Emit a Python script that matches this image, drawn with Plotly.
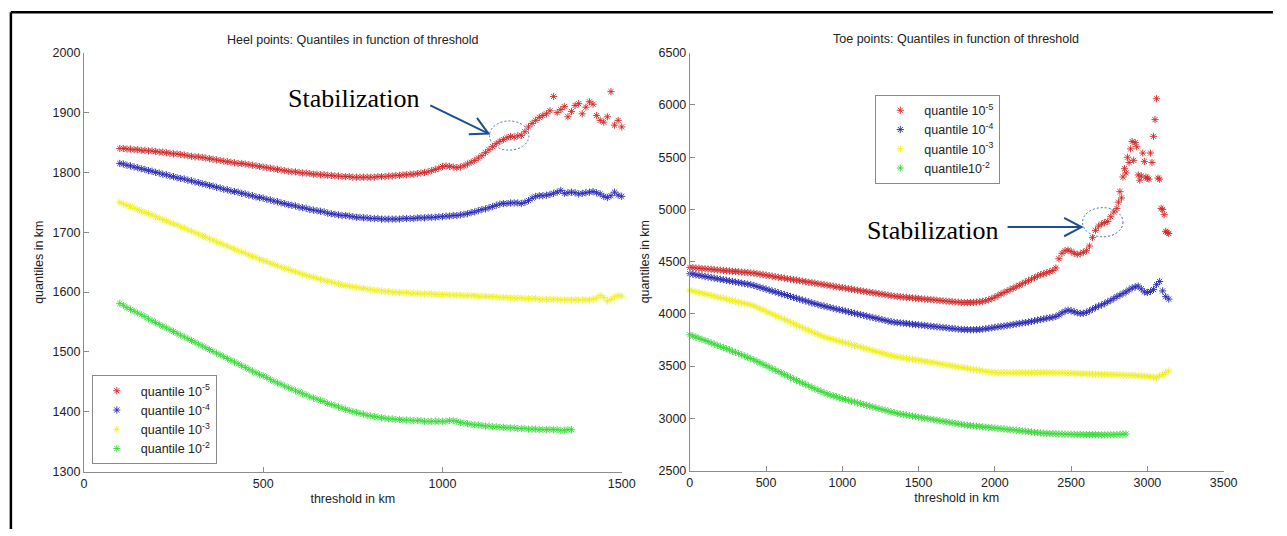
import math
import plotly.graph_objects as go

W, H = 1287, 536

# ---------------- Heel points (threshold 100..1500 km, step 10) ----------------
HEEL_X = list(range(100, 1501, 10))
HEEL_X_GREEN = list(range(100, 1361, 10))

heel_q5 = [
    1840, 1840, 1839, 1839, 1838, 1838, 1837, 1837, 1836, 1836, 1835,
    1834, 1834, 1833, 1832, 1831, 1831, 1830, 1829, 1828, 1827,
    1826, 1826, 1825, 1824, 1823, 1822, 1821, 1820, 1819, 1818,
    1817, 1816, 1815, 1815, 1814, 1813, 1812, 1811, 1810, 1809,
    1808, 1807, 1806, 1805, 1804, 1803, 1802, 1801, 1801, 1800,
    1799, 1799, 1798, 1797, 1797, 1796, 1796, 1795, 1795, 1794,
    1794, 1793, 1793, 1793, 1792, 1792, 1792, 1792, 1792, 1792,
    1792, 1793, 1793, 1793, 1794, 1794, 1795, 1795, 1796, 1796,
    1797, 1797, 1798, 1799, 1800, 1801, 1803, 1805, 1807, 1810,
    1811, 1810, 1809, 1808, 1809, 1811, 1814, 1817, 1820, 1824,
    1828, 1833, 1838, 1843, 1848, 1852, 1855, 1858, 1860, 1859,
    1861, 1862, 1868, 1876, 1882, 1887, 1892, 1895, 1898, 1903,
    1927, 1900, 1905, 1910, 1893, 1902, 1912, 1915, 1898, 1909,
    1918, 1914, 1895, 1887, 1884, 1893, 1935, 1879, 1887, 1876,
]
heel_q4 = [
    1815, 1814, 1812, 1811, 1809, 1808, 1806, 1805, 1803, 1802, 1800,
    1799, 1797, 1796, 1794, 1793, 1791, 1790, 1789, 1787, 1786,
    1784, 1783, 1781, 1780, 1778, 1777, 1775, 1774, 1772, 1771,
    1769, 1768, 1767, 1765, 1764, 1762, 1761, 1759, 1758, 1757,
    1755, 1754, 1752, 1751, 1749, 1748, 1746, 1745, 1744, 1742,
    1741, 1740, 1738, 1737, 1736, 1735, 1734, 1732, 1731, 1730,
    1729, 1728, 1728, 1727, 1726, 1725, 1725, 1724, 1724, 1723,
    1723, 1723, 1722, 1722, 1722, 1722, 1722, 1722, 1723, 1723,
    1723, 1723, 1724, 1724, 1724, 1725, 1725, 1725, 1726, 1726,
    1727, 1727, 1728, 1728, 1729, 1730, 1731, 1733, 1734, 1736,
    1738, 1739, 1741, 1743, 1745, 1747, 1748, 1748, 1749, 1749,
    1749, 1748, 1750, 1753, 1757, 1760, 1761, 1761, 1762, 1763,
    1765, 1767, 1770, 1765, 1766, 1767, 1766, 1764, 1765, 1766,
    1767, 1768, 1766, 1764, 1760, 1758, 1761, 1767, 1762, 1760,
]
heel_q3 = [
    1750, 1747, 1745, 1743, 1740, 1738, 1736, 1733, 1731, 1729, 1726,
    1724, 1721, 1719, 1716, 1714, 1712, 1709, 1707, 1704, 1702,
    1699, 1697, 1694, 1692, 1689, 1687, 1684, 1682, 1679, 1677,
    1674, 1672, 1669, 1667, 1665, 1662, 1660, 1658, 1655, 1653,
    1651, 1648, 1646, 1644, 1642, 1640, 1638, 1636, 1634, 1632,
    1630, 1628, 1626, 1625, 1623, 1621, 1620, 1618, 1617, 1615,
    1614, 1612, 1611, 1610, 1609, 1608, 1607, 1606, 1605, 1604,
    1603, 1603, 1602, 1601, 1601, 1600, 1600, 1599, 1599, 1599,
    1598, 1598, 1598, 1597, 1597, 1597, 1597, 1596, 1596, 1596,
    1596, 1595, 1595, 1595, 1595, 1594, 1594, 1594, 1594, 1593,
    1593, 1593, 1592, 1592, 1592, 1591, 1591, 1591, 1590, 1590,
    1590, 1590, 1589, 1589, 1589, 1589, 1588, 1588, 1588, 1588,
    1588, 1588, 1587, 1587, 1587, 1587, 1587, 1587, 1587, 1587,
    1587, 1588, 1590, 1594, 1591, 1585, 1588, 1592, 1594, 1593,
]
heel_q2 = [
    1581, 1578, 1574, 1571, 1568, 1565, 1562, 1559, 1555, 1552, 1549,
    1546, 1543, 1540, 1537, 1534, 1531, 1528, 1525, 1522, 1519,
    1516, 1513, 1510, 1507, 1504, 1501, 1498, 1495, 1492, 1489,
    1486, 1483, 1480, 1477, 1474, 1471, 1468, 1465, 1462, 1460,
    1457, 1454, 1451, 1448, 1446, 1443, 1440, 1438, 1435, 1433,
    1430, 1428, 1425, 1423, 1421, 1419, 1417, 1414, 1412, 1410,
    1408, 1406, 1404, 1402, 1400, 1399, 1397, 1396, 1394, 1393,
    1392, 1391, 1390, 1389, 1388, 1388, 1387, 1387, 1386, 1386,
    1386, 1385, 1385, 1385, 1384, 1384, 1384, 1384, 1384, 1384,
    1384, 1385, 1385, 1384, 1382, 1381, 1380, 1379, 1378, 1378,
    1377, 1376, 1376, 1375, 1375, 1374, 1374, 1373, 1373, 1373,
    1372, 1372, 1372, 1371, 1371, 1371, 1370, 1370, 1370, 1370,
    1370, 1370, 1369, 1369, 1370, 1370,
]

# ---------------- Toe points (threshold 0..3140 km) ----------------
# step 20 km, except the noisy tail of the 10^-5 quantile (step 10 km from 2800)
TOE_X = list(range(0, 3141, 20))
TOE_X_RED = list(range(0, 2800, 20)) + list(range(2800, 3141, 10))
TOE_X_GREEN = list(range(0, 2861, 20))

toe_q5 = [
    4445, 4442, 4440, 4437, 4434, 4432, 4429, 4427, 4424, 4421, 4419,
    4416, 4413, 4411, 4408, 4406, 4403, 4400, 4398, 4395, 4392,
    4390, 4385, 4380, 4375, 4371, 4366, 4361, 4356, 4351, 4347,
    4342, 4337, 4332, 4327, 4323, 4318, 4313, 4308, 4303, 4299,
    4294, 4289, 4284, 4279, 4275, 4270, 4265, 4260, 4255, 4251,
    4246, 4241, 4236, 4231, 4227, 4222, 4217, 4212, 4207, 4203,
    4198, 4193, 4189, 4184, 4179, 4174, 4170, 4167, 4164, 4161,
    4159, 4156, 4153, 4150, 4147, 4144, 4142, 4139, 4136, 4134,
    4131, 4128, 4125, 4122, 4120, 4117, 4114, 4112, 4110, 4109,
    4109, 4110, 4111, 4113, 4116, 4120, 4126, 4135, 4146, 4160,
    4175, 4190, 4204, 4218, 4232, 4246, 4260, 4274, 4289, 4304,
    4318, 4333, 4347, 4362, 4375, 4384, 4393, 4404, 4415, 4440,
    4528, 4580, 4605, 4610, 4598, 4580, 4570, 4575, 4590, 4605,
    4650, 4730, 4800, 4840, 4860, 4875, 4885, 4930, 4975,
    # 2800 .. 3140, step 10
    5010, 5070, 5170, 5110, 5310, 5390, 5350, 5500, 5450, 5580,
    5650, 5470, 5640, 5600, 5330, 5280, 5320, 5540, 5460, 5310,
    5300, 5290, 5540, 5450, 5700, 5860, 6060, 5300, 5290, 5010,
    5000, 4950, 4790, 4780, 4770,
]
toe_q4 = [
    4385, 4380, 4374, 4369, 4364, 4358, 4353, 4348, 4343, 4337, 4332,
    4327, 4321, 4316, 4311, 4305, 4300, 4295, 4290, 4284, 4279,
    4272, 4263, 4254, 4246, 4237, 4228, 4219, 4211, 4202, 4193,
    4185, 4176, 4167, 4158, 4150, 4141, 4132, 4124, 4115, 4106,
    4098, 4090, 4081, 4075, 4068, 4061, 4054, 4047, 4040, 4034,
    4027, 4020, 4013, 4006, 3999, 3993, 3986, 3979, 3972, 3965,
    3958, 3952, 3945, 3938, 3931, 3925, 3920, 3917, 3914, 3911,
    3908, 3905, 3901, 3898, 3895, 3892, 3889, 3885, 3882, 3879,
    3876, 3873, 3870, 3867, 3863, 3860, 3857, 3854, 3852, 3850,
    3849, 3848, 3848, 3849, 3851, 3854, 3858, 3862, 3866, 3871,
    3876, 3880, 3884, 3888, 3893, 3898, 3903, 3908, 3913, 3917,
    3922, 3928, 3934, 3940, 3946, 3952, 3958, 3963, 3968, 3975,
    3990, 4010, 4025, 4035, 4030, 4020, 4010, 4005, 4006, 4015,
    4030, 4045, 4060, 4075, 4085, 4100, 4115, 4130, 4148, 4165,
    4180, 4195, 4210, 4230, 4248, 4258, 4266, 4240, 4210, 4205,
    4215, 4234, 4280, 4310, 4220, 4165, 4142,
]
toe_q3 = [
    4225, 4219, 4212, 4205, 4198, 4191, 4184, 4177, 4170, 4163, 4156,
    4149, 4142, 4134, 4127, 4120, 4113, 4106, 4099, 4092, 4085,
    4076, 4063, 4050, 4037, 4024, 4011, 3998, 3985, 3972, 3959,
    3946, 3933, 3920, 3907, 3894, 3881, 3868, 3855, 3842, 3829,
    3816, 3803, 3791, 3780, 3772, 3764, 3756, 3747, 3739, 3731,
    3723, 3715, 3706, 3698, 3690, 3682, 3674, 3665, 3657, 3649,
    3641, 3633, 3625, 3617, 3609, 3601, 3594, 3589, 3585, 3580,
    3575, 3570, 3565, 3561, 3556, 3551, 3546, 3541, 3537, 3532,
    3527, 3522, 3517, 3513, 3508, 3503, 3498, 3493, 3488, 3484,
    3479, 3474, 3469, 3464, 3459, 3454, 3449, 3444, 3441, 3439,
    3437, 3436, 3436, 3436, 3436, 3436, 3437, 3437, 3437, 3437,
    3437, 3437, 3437, 3437, 3437, 3437, 3437, 3437, 3436, 3436,
    3436, 3436, 3435, 3434, 3433, 3431, 3430, 3429, 3428, 3427,
    3426, 3425, 3424, 3423, 3422, 3421, 3420, 3419, 3418, 3417,
    3416, 3415, 3414, 3413, 3412, 3410, 3408, 3406, 3404, 3402,
    3398, 3394, 3391, 3405, 3420, 3437, 3453,
]
toe_q2 = [
    3800, 3789, 3778, 3767, 3756, 3745, 3734, 3722, 3711, 3700, 3689,
    3678, 3666, 3655, 3643, 3632, 3620, 3608, 3597, 3585, 3573,
    3560, 3546, 3532, 3518, 3504, 3490, 3476, 3462, 3448, 3434,
    3420, 3406, 3392, 3378, 3364, 3350, 3337, 3323, 3310, 3297,
    3284, 3271, 3258, 3246, 3234, 3224, 3215, 3206, 3197, 3189,
    3181, 3173, 3165, 3157, 3149, 3141, 3133, 3125, 3117, 3109,
    3101, 3093, 3085, 3077, 3069, 3062, 3055, 3047, 3042, 3037,
    3032, 3027, 3022, 3017, 3012, 3007, 3002, 2997, 2992, 2987,
    2982, 2977, 2972, 2967, 2962, 2957, 2952, 2947, 2942, 2937,
    2934, 2931, 2928, 2925, 2922, 2919, 2916, 2913, 2910, 2907,
    2904, 2901, 2898, 2895, 2892, 2889, 2886, 2883, 2880, 2877,
    2874, 2870, 2866, 2862, 2860, 2858, 2856, 2854, 2853, 2852,
    2851, 2850, 2849, 2848, 2847, 2846, 2846, 2845, 2845, 2844,
    2844, 2844, 2844, 2844, 2843, 2843, 2843, 2843, 2844, 2845,
    2846, 2848, 2851,
]

HEEL_NAMES = ["quantile 10<sup>-5</sup>", "quantile 10<sup>-4</sup>",
              "quantile 10<sup>-3</sup>", "quantile 10<sup>-2</sup>"]
TOE_NAMES = ["quantile 10<sup>-5</sup>", "quantile 10<sup>-4</sup>",
             "quantile 10<sup>-3</sup>", "quantile10<sup>-2</sup>"]
COLORS = ["#d02828", "#2828b4", "#f0f020", "#38d838"]

heel_series = [(HEEL_X, heel_q5), (HEEL_X, heel_q4), (HEEL_X, heel_q3), (HEEL_X_GREEN, heel_q2)]
toe_series = [(TOE_X_RED, toe_q5), (TOE_X, toe_q4), (TOE_X, toe_q3), (TOE_X_GREEN, toe_q2)]

for xs, ys in heel_series + toe_series:
    if len(xs) != len(ys):
        raise ValueError(f"length mismatch: {len(xs)} thresholds vs {len(ys)} quantiles")

SANS = "Liberation Sans, Arial, sans-serif"
SERIF = "Liberation Serif, Times New Roman, serif"
AXIS_GREY = "#8c8c8c"
TEXT = "#222222"
ARROW = "#1f4f8f"

fig = go.Figure()


def add_series(series, names, xref, yref, legend):
    for (xs, ys), name, color in zip(series, names, COLORS):
        fig.add_trace(go.Scatter(
            x=xs, y=ys, mode="markers", name=name,
            xaxis=xref, yaxis=yref, legend=legend, cliponaxis=False,
            marker=dict(symbol="asterisk-open", size=6, color=color,
                        opacity=0.9, line=dict(width=1, color=color)),
        ))


add_series(heel_series, HEEL_NAMES, "x", "y", "legend")
add_series(toe_series, TOE_NAMES, "x2", "y2", "legend2")


def px_x(px):
    return px / W


def px_y(py):
    return 1 - py / H


def axis_style(**kw):
    base = dict(
        showline=True, linecolor=AXIS_GREY, linewidth=1,
        ticks="inside", ticklen=5, tickcolor=AXIS_GREY, tickwidth=1,
        showgrid=False, zeroline=False, mirror=False,
        tickfont=dict(family=SANS, size=12.5, color=TEXT),
        title_font=dict(family=SANS, size=12.5, color=TEXT),
    )
    base.update(kw)
    return base


def arrow_shapes(x0, y0, x1, y1, head=20, half_angle=28):
    """Shaft plus an open V head, in pixel coordinates of the page."""
    ang = math.atan2(y1 - y0, x1 - x0)
    back = ang + math.pi
    a = math.radians(half_angle)
    p1 = (x1 + head * math.cos(back + a), y1 + head * math.sin(back + a))
    p2 = (x1 + head * math.cos(back - a), y1 + head * math.sin(back - a))
    line = dict(color=ARROW, width=2)
    return [
        dict(type="line", xref="paper", yref="paper",
             x0=px_x(x0), y0=px_y(y0), x1=px_x(x1), y1=px_y(y1), line=line),
        dict(type="path", xref="paper", yref="paper",
             path=f"M {px_x(p1[0])} {px_y(p1[1])} L {px_x(x1)} {px_y(y1)} "
                  f"L {px_x(p2[0])} {px_y(p2[1])}",
             line=line),
    ]


def ellipse_shape(cx, cy, rx, ry):
    return dict(type="circle", xref="paper", yref="paper",
                x0=px_x(cx - rx), x1=px_x(cx + rx),
                y0=px_y(cy + ry), y1=px_y(cy - ry),
                line=dict(color="#3f6fa8", width=1, dash="2px,2px"))


shapes = []
# page frame
shapes.append(dict(type="line", xref="paper", yref="paper",
                   x0=px_x(8), x1=px_x(1287), y0=px_y(5.5), y1=px_y(5.5),
                   line=dict(color="black", width=2.5)))
shapes.append(dict(type="line", xref="paper", yref="paper",
                   x0=px_x(8), x1=px_x(8), y0=px_y(5.5), y1=px_y(536),
                   line=dict(color="black", width=2.5)))
# stabilisation callouts
shapes += arrow_shapes(433, 101, 492, 130)
shapes.append(ellipse_shape(513, 132, 20, 15))
shapes += arrow_shapes(1018, 226, 1093, 226)
shapes.append(ellipse_shape(1114.5, 221, 20.5, 15))

legend_common = dict(
    xanchor="left", yanchor="top", bgcolor="white",
    bordercolor="#8a8a8a", borderwidth=1, itemwidth=38,
    font=dict(family=SANS, size=12.5, color=TEXT),
)

fig.update_layout(
    width=W, height=H,
    margin=dict(l=0, r=0, t=0, b=0),
    paper_bgcolor="white", plot_bgcolor="white",
    showlegend=True,
    xaxis=axis_style(domain=[px_x(82), px_x(627)], range=[0, 1500],
                     tickvals=[0, 500, 1000, 1500], anchor="y",
                     title=dict(text="threshold in km", standoff=4)),
    yaxis=axis_style(domain=[px_y(477), px_y(47)], range=[1300, 2000],
                     dtick=100, anchor="x",
                     title=dict(text="quantiles in km", standoff=6)),
    xaxis2=axis_style(domain=[px_x(696), px_x(1237)], range=[0, 3500],
                      dtick=500, anchor="y2",
                      title=dict(text="threshold in km", standoff=4)),
    yaxis2=axis_style(domain=[px_y(476), px_y(47)], range=[2500, 6500],
                      dtick=500, anchor="x2",
                      title=dict(text="quantiles in km", standoff=6)),
    legend=dict(x=px_x(90), y=px_y(378), **legend_common),
    legend2=dict(x=px_x(884), y=px_y(90), **legend_common),
    shapes=shapes,
    annotations=[
        dict(text="Heel points: Quantiles in function of threshold",
             xref="paper", yref="paper", x=px_x(354.5), y=px_y(34),
             showarrow=False, xanchor="center", yanchor="middle",
             font=dict(family=SANS, size=12.5, color=TEXT)),
        dict(text="Toe points: Quantiles in function of threshold",
             xref="paper", yref="paper", x=px_x(966), y=px_y(33),
             showarrow=False, xanchor="center", yanchor="middle",
             font=dict(family=SANS, size=12.5, color=TEXT)),
        dict(text="Stabilization", xref="paper", yref="paper",
             x=px_x(355), y=px_y(94), showarrow=False,
             xanchor="center", yanchor="middle",
             font=dict(family=SERIF, size=26, color="black")),
        dict(text="Stabilization", xref="paper", yref="paper",
             x=px_x(941.5), y=px_y(229), showarrow=False,
             xanchor="center", yanchor="middle",
             font=dict(family=SERIF, size=26, color="black")),
    ],
)

# the page body gets no default margin, so the figure fills the window exactly
PAGE_FIT = (
    "document.documentElement.style.margin='0';"
    "document.body.style.margin='0';"
    "document.body.style.overflow='hidden';"
)

fig.write_html("out.html", post_script=PAGE_FIT)
